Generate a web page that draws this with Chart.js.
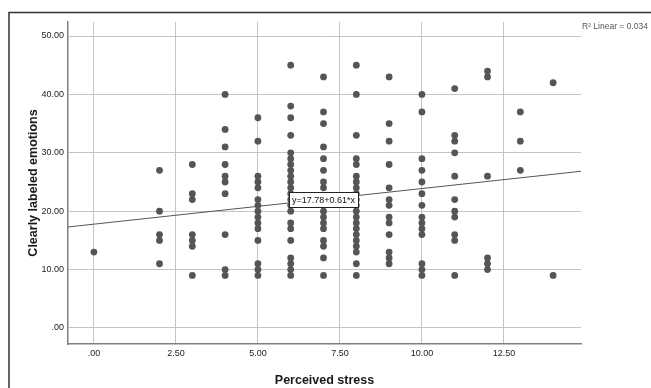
<!DOCTYPE html>
<html>
<head>
<meta charset="utf-8">
<script src="https://cdn.jsdelivr.net/npm/chart.js@4.4.1/dist/chart.umd.min.js"></script>
<style>
  html, body { margin: 0; padding: 0; background: #fff; }
  #wrap { position: relative; width: 651px; height: 388px; }
</style>
</head>
<body>
<div id="wrap"><canvas id="stress-chart" width="651" height="388"></canvas></div>
<script>
// Perceived stress levels (x) and the clearly-labeled-emotions scores seen at each level (y)
const stressLevels = [0, 2, 3, 4, 5, 6, 7, 8, 9, 10, 11, 12, 13, 14];
const emotionsByStress = [
    [13],
    [27, 20, 16, 15, 11],
    [28, 23, 22, 16, 15, 14, 9],
    [40, 34, 31, 28, 26, 25, 23, 16, 10, 9],
    [36, 32, 26, 25, 24, 22, 21, 20, 19, 18, 17, 15, 11, 10, 9],
    [45, 38, 36, 33, 30, 29, 28, 27, 26, 25, 24, 23, 22, 21, 20, 18, 17, 15, 12, 11, 10, 9],
    [43, 37, 35, 31, 29, 27, 25, 24, 22, 20, 19, 18, 17, 15, 14, 12, 9],
    [45, 40, 33, 29, 28, 26, 25, 24, 23, 22, 21, 20, 19, 18, 17, 16, 15, 14, 13, 11, 9],
    [43, 35, 32, 28, 24, 22, 21, 19, 18, 16, 13, 12, 11],
    [40, 37, 29, 27, 25, 23, 21, 19, 18, 17, 16, 11, 10, 9],
    [41, 33, 32, 30, 26, 22, 20, 19, 16, 15, 9],
    [44, 43, 26, 12, 11, 10],
    [37, 32, 27],
    [42, 9]
];

// Fit line reported by SPSS
const fitIntercept = 17.78;
const fitSlope = 0.61;
const fitLabel = 'y=17.78+0.61*x';
const fitLabelAt = 7.0;
const rSquaredLabel = 'R\u00B2 Linear = 0.034';

// Axis ticks
const xTicks = [0, 2.5, 5, 7.5, 10, 12.5];
const xTickLabels = ['.00', '2.50', '5.00', '7.50', '10.00', '12.50'];
const yTicks = [0, 10, 20, 30, 40, 50];
const yTickLabels = ['.00', '10.00', '20.00', '30.00', '40.00', '50.00'];

const xMin = -0.79, xMax = 14.85;
const yMin = -2.74, yMax = 52.4;

const points = [];
stressLevels.forEach((s, i) => {
    emotionsByStress[i].forEach(e => points.push({ x: s, y: e }));
});

const fitPoints = [xMin, xMax].map(x => ({ x: x, y: fitIntercept + fitSlope * x }));

const framePlugin = {
    id: 'frame',
    beforeDraw(chart) {
        const ctx = chart.ctx;
        ctx.save();
        ctx.fillStyle = '#fff';
        ctx.fillRect(0, 0, chart.width, chart.height);
        ctx.strokeStyle = '#333';
        ctx.lineWidth = 1.5;
        ctx.beginPath();
        ctx.moveTo(9, chart.height + 2);
        ctx.lineTo(9, 12.5);
        ctx.lineTo(chart.width + 2, 12.5);
        ctx.stroke();
        ctx.restore();
    },
    afterDatasetsDraw(chart) {
        const ctx = chart.ctx;
        const xs = chart.scales.x, ys = chart.scales.y;
        const cx = xs.getPixelForValue(fitLabelAt);
        const cy = ys.getPixelForValue(fitIntercept + fitSlope * fitLabelAt);
        ctx.save();
        ctx.font = '9px "Liberation Sans", Arial, sans-serif';
        const w = ctx.measureText(fitLabel).width + 6;
        const h = 15;
        ctx.fillStyle = '#fff';
        ctx.fillRect(Math.round(cx - w / 2) + 0.5, Math.round(cy - h / 2) + 0.5, Math.round(w), h);
        ctx.strokeStyle = '#222';
        ctx.lineWidth = 1;
        ctx.strokeRect(Math.round(cx - w / 2) + 0.5, Math.round(cy - h / 2) + 0.5, Math.round(w), h);
        ctx.fillStyle = '#111';
        ctx.textAlign = 'center';
        ctx.textBaseline = 'middle';
        ctx.fillText(fitLabel, cx, cy + 1);

        ctx.font = '8.5px "Liberation Sans", Arial, sans-serif';
        ctx.fillStyle = '#555';
        ctx.textAlign = 'left';
        ctx.fillText(rSquaredLabel, chart.chartArea.right + 1, 27);
        ctx.restore();
    }
};

new Chart(document.getElementById('stress-chart').getContext('2d'), {
    type: 'scatter',
    data: {
        datasets: [{
            label: 'Clearly labeled emotions',
            data: points,
            backgroundColor: '#555',
            borderWidth: 0,
            pointRadius: 3.4,
            order: 2
        }, {
            type: 'line',
            label: 'Linear fit',
            data: fitPoints,
            borderColor: '#555',
            borderWidth: 1,
            pointRadius: 0,
            fill: false,
            order: 1
        }]
    },
    options: {
        responsive: false,
        animation: false,
        devicePixelRatio: 1,
        layout: { padding: { left: 0, top: 22, right: 70, bottom: 0 } },
        plugins: {
            legend: { display: false },
            tooltip: { enabled: false }
        },
        scales: {
            x: {
                type: 'linear',
                min: xMin,
                max: xMax,
                afterBuildTicks: s => { s.ticks = xTicks.map(v => ({ value: v })); },
                afterFit: s => { s.height = 44; },
                ticks: {
                    color: '#222',
                    padding: 4,
                    font: { family: '"Liberation Sans", Arial, sans-serif', size: 9 },
                    callback: v => xTickLabels[xTicks.indexOf(v)]
                },
                grid: { color: '#c4c4c4', lineWidth: 1, drawTicks: false },
                border: { display: true, color: '#808080', width: 1.5 },
                title: {
                    display: true,
                    text: 'Perceived stress',
                    color: '#1a1a1a',
                    font: { family: '"Liberation Sans", Arial, sans-serif', size: 12.5, weight: 'bold' },
                    padding: { top: 5, bottom: 0 }
                }
            },
            y: {
                type: 'linear',
                min: yMin,
                max: yMax,
                afterBuildTicks: s => { s.ticks = yTicks.map(v => ({ value: v })); },
                afterFit: s => { s.width = 68; },
                ticks: {
                    color: '#222',
                    padding: 4,
                    font: { family: '"Liberation Sans", Arial, sans-serif', size: 9 },
                    callback: v => yTickLabels[yTicks.indexOf(v)]
                },
                grid: { color: '#c4c4c4', lineWidth: 1, drawTicks: false },
                border: { display: true, color: '#808080', width: 1.5 },
                title: {
                    display: true,
                    text: 'Clearly labeled emotions',
                    color: '#1a1a1a',
                    font: { family: '"Liberation Sans", Arial, sans-serif', size: 12.5, weight: 'bold' },
                    padding: { top: 26, bottom: 0 }
                }
            }
        }
    },
    plugins: [framePlugin]
});
</script>
</body>
</html>
